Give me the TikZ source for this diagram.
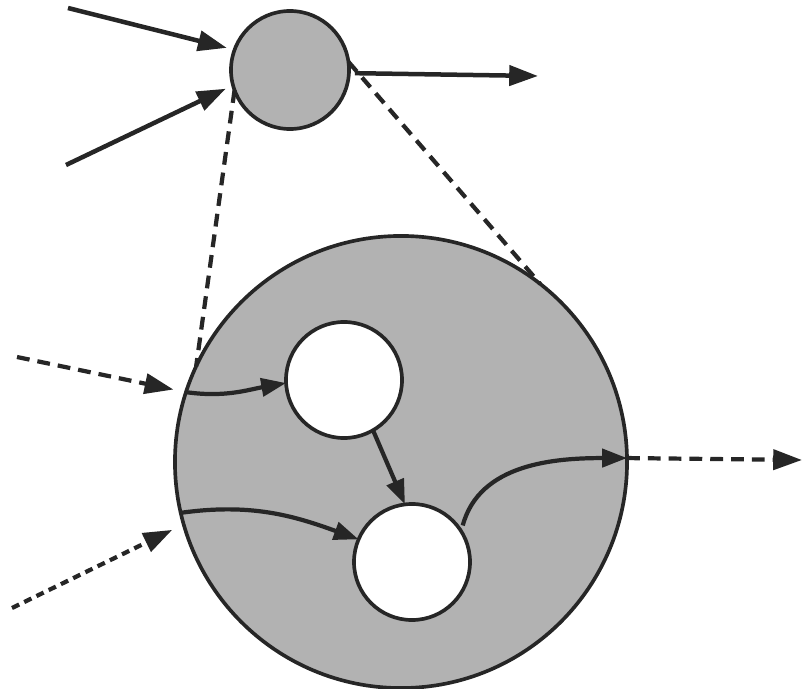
\documentclass[tikz,border=0pt]{standalone}
\usetikzlibrary{arrows.meta}

\begin{document}
\begin{tikzpicture}[
  x=0.025cm, y=-0.025cm,
  color=black!85,
  >={Triangle[length=0.72cm, width=0.5cm]},
  cell/.style={circle, draw, line width=2.6pt, inner sep=0pt, outer sep=0pt},
  shaded/.style={cell, fill=black!30},
  hole/.style={cell, fill=white, minimum size=2.9cm},
  wire/.style={->, line width=3.2pt},
  link/.style={->, line width=3pt, >={Triangle[length=0.62cm, width=0.45cm]}},
  zoomline/.style={line width=3pt, dash pattern=on 0.32cm off 0.2cm},
  feed/.style={->, line width=3pt, dash pattern=on 0.32cm off 0.2cm},
  feedfine/.style={->, line width=3pt, dash pattern=on 0.2cm off 0.14cm}
]
\useasboundingbox (0,0) rectangle (803,689);

% --- Circles ---
\node[shaded, minimum size=2.95cm] (unit) at (290,70) {};
\node[shaded, minimum size=11.3cm] (net) at (401,462) {};
\node[hole] (subA) at (344,380) {};
\node[hole] (subB) at (412,562) {};

% --- Free ends ---
\coordinate (inA) at (68,8);
\coordinate (inB) at (66,165);
\coordinate (outU) at (538,76);
\coordinate (srcA) at (17,357);
\coordinate (srcB) at (12,608);
\coordinate (sink) at (802,460);

% --- Small unit: inputs and output ---
\draw[wire, shorten >=0.2cm] (inA) -- (unit.160);
\draw[wire, shorten >=0.2cm] (inB) -- (unit.195);
\draw[wire, shorten <=0.15cm] (unit.-3) -- (outU);

% --- Zoom lines ---
\draw[zoomline] (unit.200) -- (net.155);
\draw[zoomline] (unit.8) -- (net.52);

% --- Inputs and output of the big unit ---
\draw[feed, shorten >=0.32cm] (srcA) -- (net.162);
\draw[feedfine, shorten >=0.32cm] (srcB) -- (net.196);
\draw[feed] (net.1) -- (sink);

% --- Inner connections ---
\draw[link] (net.162) to[out=-8, in=190] (subA.183);
\draw[link] (net.193) to[out=8, in=160] (subB.157);
\draw[link] (subA.-60) -- (subB.97);
\draw[link, shorten <=0.15cm] (subB.32) to[out=75, in=180] (net.1);

\end{tikzpicture}
\end{document}
